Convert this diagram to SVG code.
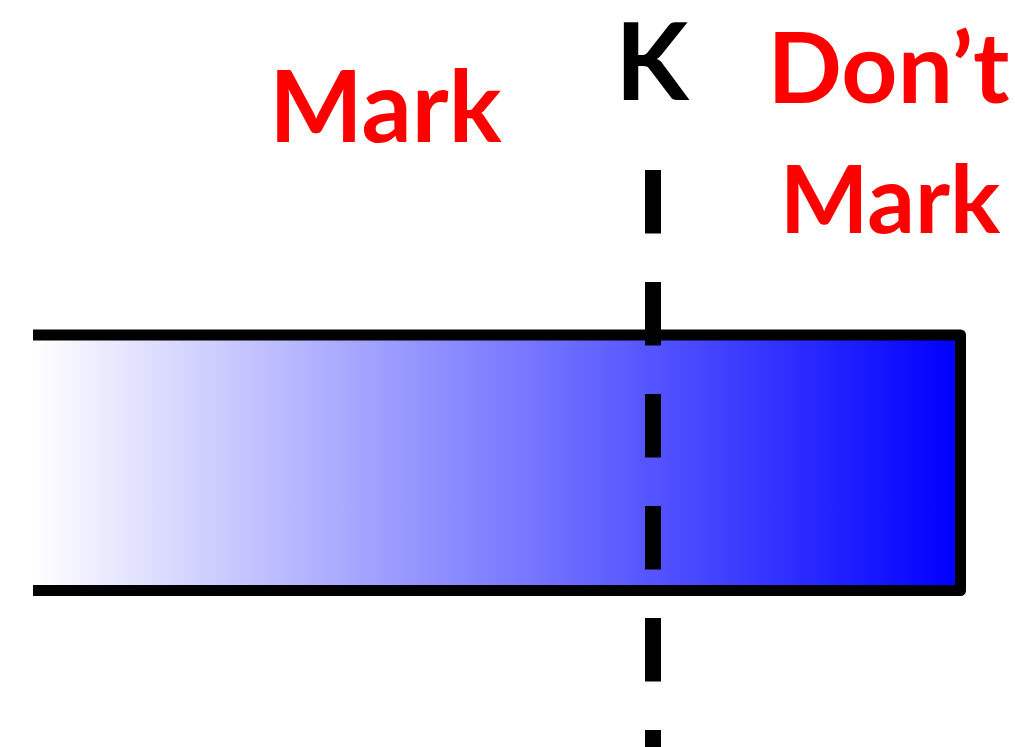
<svg xmlns="http://www.w3.org/2000/svg" width="1015" height="747" viewBox="0 0 1015 747">
  <defs>
    <linearGradient id="fade" x1="33" y1="0" x2="955" y2="0" gradientUnits="userSpaceOnUse">
      <stop offset="0" stop-color="#ffffff"/>
      <stop offset="1" stop-color="#0000ff"/>
    </linearGradient>
  </defs>
  <style>
    .label { font-family: Lato, "Open Sans", "Liberation Sans", sans-serif; font-weight: bold; text-anchor: middle; }
    .red { fill: #ff0000; }
    .black { fill: #000000; }
    .frame { fill: none; stroke: #000000; stroke-width: 11; stroke-linejoin: round; stroke-linecap: butt; }
    .cut { fill: none; stroke: #000000; stroke-width: 16; stroke-dasharray: 63.5 48.5; }
  </style>
  <rect width="1015" height="747" fill="#ffffff"/>

  <!-- array bar, open on the left -->
  <g id="bar">
    <rect x="33" y="335" width="927" height="256" fill="url(#fade)"/>
    <path class="frame" d="M33,335 H960.5 V590.5 H33"/>
  </g>

  <!-- threshold marker -->
  <g id="threshold">
    <text class="label black" x="652" y="100" font-size="107">K</text>
  </g>

  <g id="connectors">
    <line class="cut" x1="653" y1="170" x2="653" y2="747"/>
  </g>

  <g id="mark">
    <text class="label red" x="385.5" y="141.5" font-size="99">Mark</text>
  </g>

  <g id="dont-mark">
    <text class="label red" x="888.5" y="103" font-size="98">Don’t</text>
    <text class="label red" x="890" y="233" font-size="94">Mark</text>
  </g>
</svg>
